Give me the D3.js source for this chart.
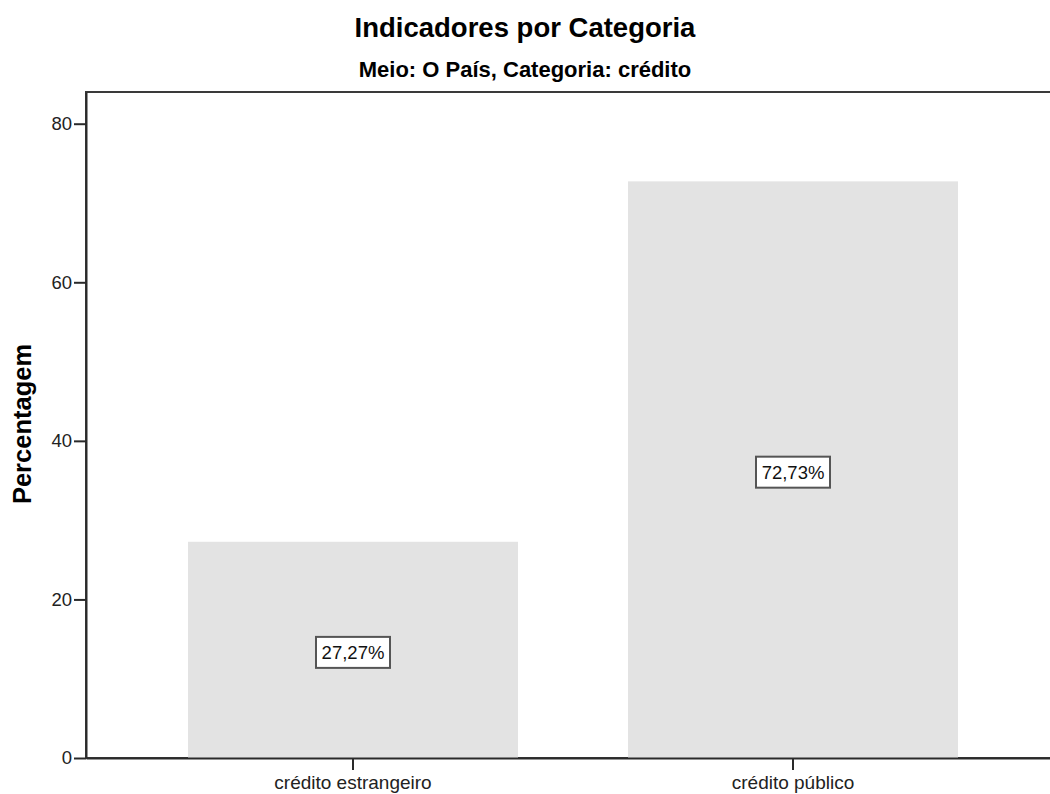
<!DOCTYPE html>
<html>
<head>
<meta charset="utf-8">
<script src="https://cdn.jsdelivr.net/npm/d3@7"></script>
<style>
  body { margin: 0; background: #fff; }
  svg { display: block; font-family: "Liberation Sans", Arial, sans-serif; }
</style>
</head>
<body>
<svg></svg>
<script>
'use strict';

var categories = ['crédito estrangeiro', 'crédito público'];
var percentages = [27.27, 72.73];
var yTicks = [0, 20, 40, 60, 80];
var labels = ['27,27%', '72,73%'];

var w = 1050;
var h = 794;
var m = { top: 92, right: -10, bottom: 36, left: 86 };

var svg = d3.select('svg').attr('width', w).attr('height', h);

var x = d3.scaleBand()
    .domain(categories)
    .range([m.left, w - m.right])
    .paddingInner(0.25)
    .paddingOuter(0.2318);

var y = d3.scaleLinear()
    .domain([0, 84])
    .range([h - m.bottom, m.top]);

// frame
svg.append('rect')
    .attr('x', m.left).attr('y', m.top)
    .attr('width', w - m.right - m.left).attr('height', h - m.bottom - m.top)
    .attr('fill', 'none').attr('stroke', '#3a3a3a').attr('stroke-width', 2);

// bars
svg.selectAll('.bar').data(percentages).enter().append('rect')
    .attr('class', 'bar')
    .attr('x', function (d, i) { return x(categories[i]); })
    .attr('y', function (d) { return y(d); })
    .attr('width', x.bandwidth())
    .attr('height', function (d) { return y(0) - y(d); })
    .attr('fill', '#e3e3e3');

// axes
var yAxis = svg.append('g')
    .attr('transform', 'translate(' + m.left + ',0)')
    .call(d3.axisLeft(y).tickValues(yTicks).tickSize(12).tickSizeOuter(0).tickPadding(2).tickFormat(d3.format('d')));

var xAxis = svg.append('g')
    .attr('transform', 'translate(0,' + y(0) + ')')
    .call(d3.axisBottom(x).tickSize(12).tickSizeOuter(0).tickPadding(6));

[yAxis, xAxis].forEach(function (a) {
    a.select('.domain').attr('stroke', '#2a2a2a').attr('stroke-width', 2);
    a.selectAll('.tick line').attr('stroke', '#2a2a2a').attr('stroke-width', 2);
    a.selectAll('.tick text').attr('fill', '#222').attr('font-family', '"Liberation Sans", Arial, sans-serif');
});
yAxis.selectAll('.tick text').attr('font-size', 18.5);
xAxis.selectAll('.tick text').attr('font-size', 19);

// value labels
var lab = svg.selectAll('.lab').data(percentages).enter().append('g')
    .attr('class', 'lab')
    .attr('transform', function (d, i) {
        return 'translate(' + (x(categories[i]) + x.bandwidth() / 2) + ',' + (y(d / 2) + 2.5) + ')';
    });

lab.append('rect')
    .attr('x', -37).attr('y', -15.5).attr('width', 74).attr('height', 31)
    .attr('fill', '#fff').attr('stroke', '#555').attr('stroke-width', 2);

lab.append('text')
    .attr('text-anchor', 'middle')
    .attr('dy', '0.35em')
    .attr('font-size', 18.5)
    .attr('fill', '#111')
    .text(function (d, i) { return labels[i]; });

// titles
svg.append('text')
    .attr('x', 525).attr('y', 37)
    .attr('text-anchor', 'middle')
    .attr('font-size', 27.5).attr('font-weight', 'bold')
    .text('Indicadores por Categoria');

svg.append('text')
    .attr('x', 525).attr('y', 77)
    .attr('text-anchor', 'middle')
    .attr('font-size', 22).attr('font-weight', 'bold')
    .text('Meio: O País, Categoria: crédito');

svg.append('text')
    .attr('transform', 'translate(31,424) rotate(-90)')
    .attr('text-anchor', 'middle')
    .attr('font-size', 25.5).attr('font-weight', 'bold')
    .text('Percentagem');
</script>
</body>
</html>
